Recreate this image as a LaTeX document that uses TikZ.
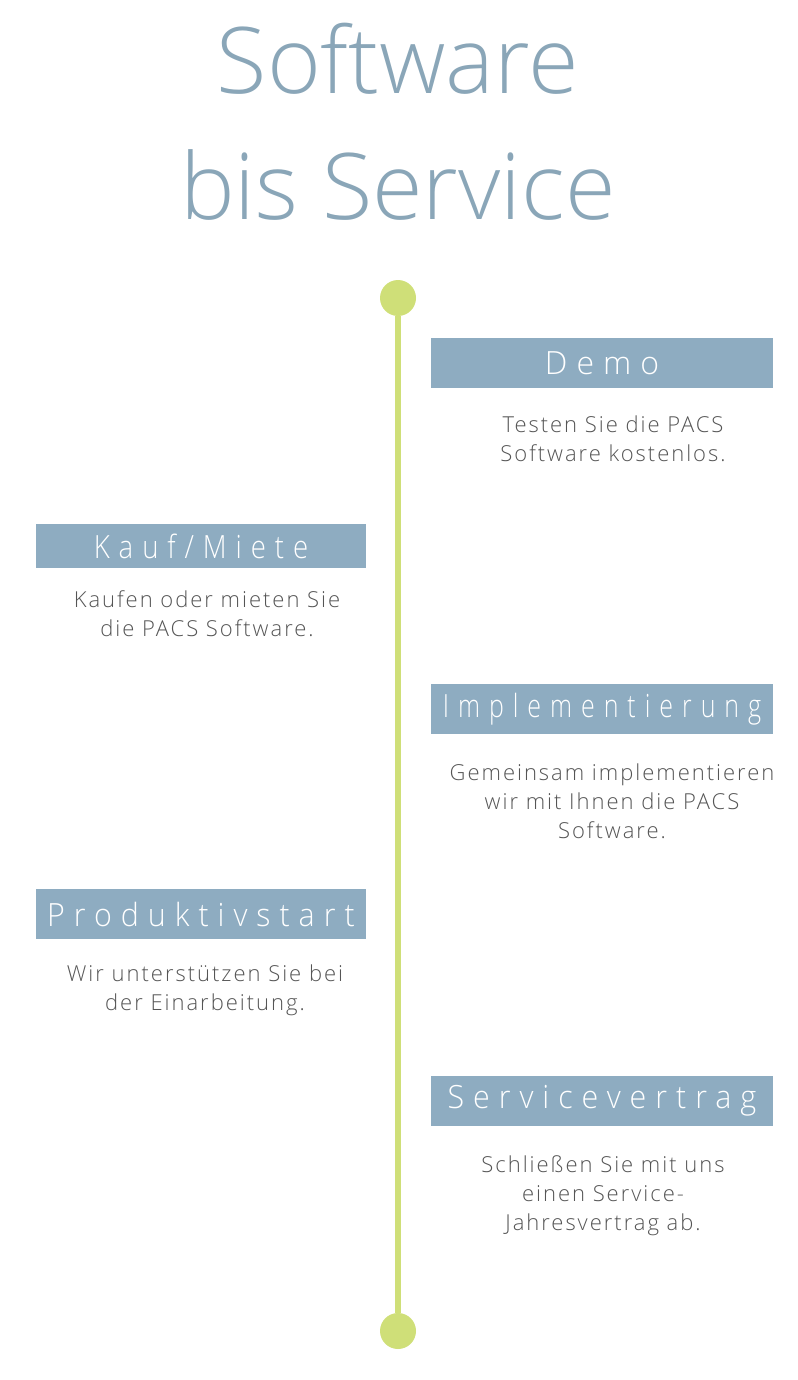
\documentclass[tikz,border=0pt]{standalone}
\usepackage{fontspec}
\setmainfont{Open Sans}[UprightFont=* Light]
\usetikzlibrary{positioning}
\definecolor{titleblue}{HTML}{8AA6B8}
\definecolor{boxblue}{HTML}{8EACC1}
\definecolor{lime}{HTML}{CFDF78}
\definecolor{textgray}{HTML}{555555}
\tikzset{
  dot/.style={circle, fill=lime, minimum size=36pt, inner sep=0pt},
  stepbox/.style={fill=boxblue, text=white, minimum width=342pt, minimum height=50pt,
    inner sep=0pt, font=\fontsize{32}{36}\selectfont\addfontfeature{LetterSpace=28, FakeStretch=#1}},
  stepbox/.default=1,
  desc/.style={text=textgray, align=center, inner sep=0pt,
    font=\fontsize{22}{29}\selectfont\addfontfeature{LetterSpace=9}},
}
\begin{document}
\begin{tikzpicture}[x=1pt, y=-1pt]
\useasboundingbox (0,0) rectangle (797,1380);
\node[text=titleblue, align=center, font=\fontsize{92}{126}\selectfont] (title) at (398,122) {Software\\bis Service};
\node[dot] (top) at (398,298) {};
\node[dot] (bottom) at (398,1331) {};
\draw[lime, line width=6pt] (top) -- (bottom);
% steps
\node[stepbox] (demo) at (602,363) {Demo};
\node[stepbox=0.86, minimum width=330pt, minimum height=44pt] (kauf) at (201,546) {Kauf/Miete};
\node[stepbox=0.78] (impl) at (602,709) {Implementierung};
\node[stepbox=0.95, minimum width=330pt] (prod) at (201,914) {Produktivstart};
\node[stepbox=0.95] (serv) at (602,1101) {Servicevertrag};
% descriptions
\node[desc, below=27pt of demo, xshift=11pt] (demotext) {Testen Sie die PACS\\Software kostenlos.};
\node[desc, below=22pt of kauf, xshift=6pt] (kauftext) {Kaufen oder mieten Sie\\die PACS Software.};
\node[desc, below=29pt of impl, xshift=10pt] (impltext) {Gemeinsam implementieren\\wir mit Ihnen die PACS\\Software.};
\node[desc, below=25pt of prod, xshift=4pt] (prodtext) {Wir unterstützen Sie bei\\der Einarbeitung.};
\node[desc, below=29pt of serv, xshift=1pt] (servtext) {Schließen Sie mit uns\\einen Service-\\Jahresvertrag ab.};
\end{tikzpicture}
\end{document}
